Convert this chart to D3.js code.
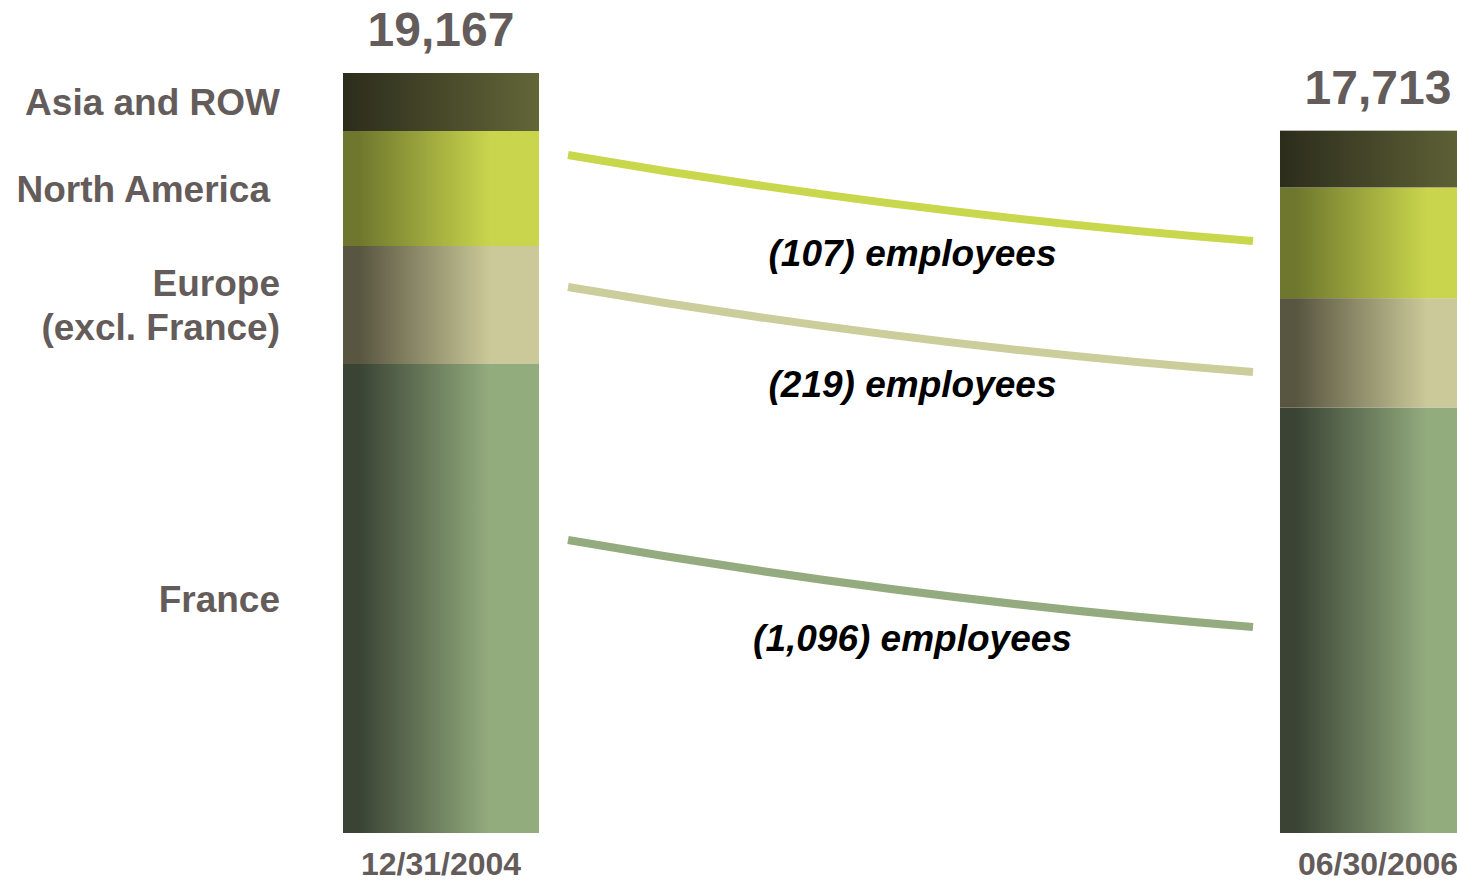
<!DOCTYPE html>
<html>
<head>
<meta charset="utf-8">
<script src="https://cdn.jsdelivr.net/npm/d3@7"></script>
<style>
  body { margin: 0; background: #fff; overflow: hidden; }
  text { font-family: "Liberation Sans", Arial, sans-serif; }
</style>
</head>
<body>
<div id="chart"></div>
<script>
const w = 1457;
const h = 882;

// data
const dates = ['12/31/2004', '06/30/2006'];
const regions = ['France', 'Europe', 'North America', 'Asia and ROW'];
const regionLabels = [['France'], ['Europe', '(excl. France)'], ['North America'], ['Asia and ROW']];
const values2004 = [11828, 2976, 2900, 1463];
const values2006 = [10732, 2757, 2793, 1431];
const totals = [19167, 17713];
const changes = ['(107) employees', '(219) employees', '(1,096) employees'];
// connector anchor levels (employees) on each side
const linkFrom = [17100, 13770, 7390];
const linkTo = [14930, 11627, 5195];

const gradColors = [
  ['#3a4334', '#93ac7e'],
  ['#585540', '#cbc999'],
  ['#6e772d', '#c9d54d'],
  ['#2c2c1c', '#636638']
];
const lineColors = ['#c9d74c', '#cbcd9b', '#93ab7e'];
const grey = '#645c5a';

const svg = d3.select('#chart')
  .append('svg')
  .attr('width', w)
  .attr('height', h);

// gradients
const defs = svg.append('defs');
gradColors.forEach((c, i) => {
  const g = defs.append('linearGradient')
    .attr('id', 'grad' + i)
    .attr('x1', 0).attr('x2', 1).attr('y1', 0).attr('y2', 0);
  const stops = i === 3 ? [[0, c[0]], [1, c[1]]] : [[0, c[0]], [0.08, c[0]], [0.75, c[1]], [1, c[1]]];
  stops.forEach(s => g.append('stop').attr('offset', s[0]).attr('stop-color', s[1]));
});

// scales
const xScale = d3.scaleBand()
  .domain(dates)
  .range([343, 1476])
  .paddingInner(0.7908)
  .paddingOuter(0);

const yScale = d3.scaleLinear()
  .domain([0, totals[0]])
  .range([833, 73]);

const series = [values2004, values2006];

// stacked bars
series.forEach((vals, b) => {
  let cum = 0;
  vals.forEach((v, i) => {
    svg.append('rect')
      .attr('x', xScale(dates[b]))
      .attr('y', yScale(cum + v))
      .attr('width', xScale.bandwidth())
      .attr('height', yScale(cum) - yScale(cum + v))
      .attr('fill', 'url(#grad' + i + ')');
    cum += v;
  });

  // totals
  svg.append('text')
    .attr('x', xScale(dates[b]) + xScale.bandwidth() / 2)
    .attr('y', yScale(cum) - 27)
    .attr('text-anchor', 'middle')
    .style('font-size', '48px')
    .style('font-weight', 'bold')
    .attr('fill', grey)
    .text(d3.format(',')(totals[b]));

  // dates
  svg.append('text')
    .attr('x', xScale(dates[b]) + xScale.bandwidth() / 2)
    .attr('y', 875)
    .attr('text-anchor', 'middle')
    .style('font-size', '32px')
    .style('font-weight', 'bold')
    .attr('fill', grey)
    .text(dates[b]);
});

// region labels, centred on the 2004 segments
let cum = 0;
values2004.forEach((v, i) => {
  const mid = (yScale(cum) + yScale(cum + v)) / 2;
  const lines = regionLabels[i];
  const lh = 44;
  const t = svg.append('text')
    .attr('text-anchor', 'end')
    .style('font-size', '37px')
    .style('font-weight', 'bold')
    .attr('fill', grey);
  lines.forEach((l, k) => {
    t.append('tspan')
      .attr('x', regions[i] === 'North America' ? 270 : 280)
      .attr('y', mid + 13 + (k - (lines.length - 1) / 2) * lh)
      .text(l);
  });
  cum += v;
});

// connector curves
const x0 = xScale(dates[0]) + xScale.bandwidth() + 29;
const x1 = xScale(dates[1]) - 27;
linkFrom.forEach((f, i) => {
  const y0 = yScale(f);
  const y1 = yScale(linkTo[i]);
  const p = d3.path();
  p.moveTo(x0, y0);
  p.quadraticCurveTo((x0 + x1) / 2, (y0 + y1) / 2 + 16, x1, y1);
  svg.append('path')
    .attr('d', p.toString())
    .attr('fill', 'none')
    .attr('stroke', lineColors[i])
    .attr('stroke-width', 8);

  svg.append('text')
    .attr('x', (x0 + x1) / 2 + 2)
    .attr('y', (y0 + y1) / 2 + 68)
    .attr('text-anchor', 'middle')
    .style('font-size', '37px')
    .style('font-weight', 'bold')
    .style('font-style', 'italic')
    .attr('fill', '#000')
    .text(changes[i]);
});
</script>
</body>
</html>
